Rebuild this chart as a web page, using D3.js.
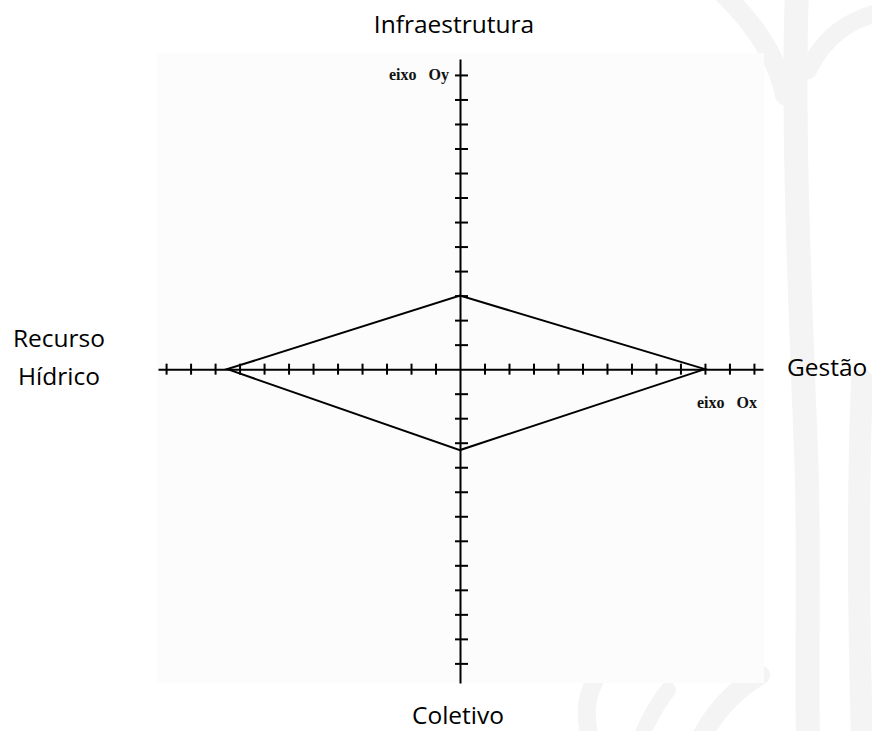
<!DOCTYPE html>
<html>
<head>
<meta charset="utf-8">
<script src="https://cdn.jsdelivr.net/npm/d3@7"></script>
<style>
  html, body { margin: 0; padding: 0; background: #ffffff; }
  svg { display: block; }
</style>
</head>
<body>
<div id="chart"></div>
<script>
// ---- data ----
const axisNames = ["Gestão", "Infraestrutura", "Recurso Hídrico", "Coletivo"];
const axisDirections = [[1, 0], [0, 1], [-1, 0], [0, -1]];
const axisValues = [10, 3, 9.5, 3.3];
const tickValues = [-12, -11, -10, -9, -8, -7, -6, -5, -4, -3, -2, -1, 1, 2, 3, 4, 5, 6, 7, 8, 9, 10, 11, 12];
const axisTitles = ["eixo\u00a0\u00a0\u00a0Ox", "eixo\u00a0\u00a0\u00a0Oy"];

// ---- layout ----
const W = 872, H = 731;
const svg = d3.select("#chart").append("svg").attr("width", W).attr("height", H);

// faint watermark in background
const wm = svg.append("g").attr("fill", "none").attr("stroke", "#f4f4f4")
  .attr("stroke-linecap", "round");
wm.append("path").attr("stroke-width", 24)
  .attr("d", "M797,-10 C792,120 800,300 806,450 C810,560 806,650 808,740");
wm.append("path").attr("stroke-width", 20)
  .attr("d", "M720,-10 C750,20 775,50 785,95");
wm.append("path").attr("stroke-width", 18)
  .attr("d", "M808,70 C825,35 850,20 880,12");
wm.append("path").attr("stroke-width", 22)
  .attr("d", "M862,380 C858,480 858,600 862,740");
wm.append("path").attr("stroke-width", 18)
  .attr("d", "M590,740 C585,715 585,700 595,680");
wm.append("path").attr("stroke-width", 20)
  .attr("d", "M700,740 C715,710 735,690 760,675");
wm.append("path").attr("stroke-width", 16)
  .attr("d", "M640,740 C650,715 660,700 668,690");

// plot background
svg.append("rect").attr("x", 157).attr("y", 53).attr("width", 607).attr("height", 630)
  .attr("fill", "#fbfcfb");

const x = d3.scaleLinear().domain([-12.33, 12.37]).range([158, 763]);
const y = d3.scaleLinear().domain([-12.8, 12.65]).range([683, 59]);

// x axis
const gx = svg.append("g").attr("transform", `translate(0,${y(0)})`)
  .call(d3.axisBottom(x).tickValues(tickValues).tickSizeOuter(0).tickFormat(""));
gx.select(".domain").attr("stroke", "#000").attr("stroke-width", 2);
gx.selectAll(".tick line").attr("stroke", "#000").attr("stroke-width", 2)
  .attr("y1", -5.5).attr("y2", 5.5);

// y axis
const gy = svg.append("g").attr("transform", `translate(${x(0)},0)`)
  .call(d3.axisRight(y).tickValues(tickValues).tickSizeOuter(0).tickFormat(""));
gy.select(".domain").attr("stroke", "#000").attr("stroke-width", 2);
gy.selectAll(".tick line").attr("stroke", "#000").attr("stroke-width", 2)
  .attr("x1", -5).attr("x2", 8);

// diamond
const pts = axisValues.map((v, i) => [x(axisDirections[i][0] * v), y(axisDirections[i][1] * v)]);
svg.append("path")
  .attr("d", d3.line().curve(d3.curveLinearClosed)(pts))
  .attr("fill", "none").attr("stroke", "#000").attr("stroke-width", 2)
  .attr("stroke-linejoin", "miter");

// axis titles (eixo Ox / eixo Oy)
const serif = "'Liberation Serif', 'DejaVu Serif', serif";
svg.append("text").attr("x", 757).attr("y", 408).attr("text-anchor", "end")
  .attr("font-family", serif).attr("font-weight", "bold").attr("font-size", 16)
  .attr("fill", "#111").text(axisTitles[0]);
svg.append("text").attr("x", 449).attr("y", 80).attr("text-anchor", "end")
  .attr("font-family", serif).attr("font-weight", "bold").attr("font-size", 16)
  .attr("fill", "#111").text(axisTitles[1]);

// category labels
const sans = "'Open Sans', sans-serif";
const lab = svg.append("g").attr("font-family", sans).attr("font-size", 24.5).attr("fill", "#000");
lab.append("text").attr("x", 454).attr("y", 33).attr("text-anchor", "middle").text(axisNames[1]);
lab.append("text").attr("x", 787).attr("y", 376).attr("text-anchor", "start").text(axisNames[0]);
lab.append("text").attr("x", 458).attr("y", 724).attr("text-anchor", "middle").text(axisNames[3]);
const rh = axisNames[2].split(" ");
lab.append("text").attr("x", 59).attr("y", 347).attr("text-anchor", "middle").text(rh[0]);
lab.append("text").attr("x", 59).attr("y", 385).attr("text-anchor", "middle").text(rh[1]);
</script>
</body>
</html>
